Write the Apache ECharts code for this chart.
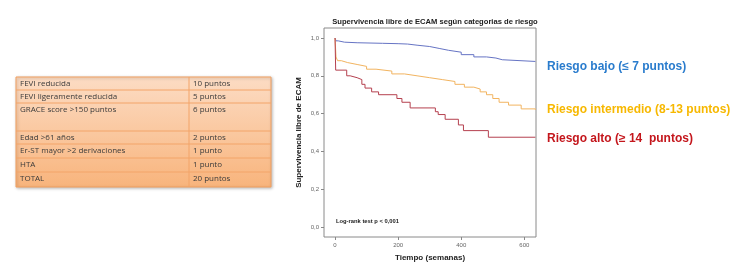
<!DOCTYPE html>
<html>
<head>
<meta charset="utf-8">
<script src="https://cdn.jsdelivr.net/npm/echarts@6/dist/echarts.min.js"></script>
<style>
  html, body { margin: 0; padding: 0; background: #fff; }
  #main { width: 750px; height: 276px; }
</style>
</head>
<body>
<div id="main"></div>
<script>
// score table
var factors = ['FEVI reducida', 'FEVI ligeramente reducida', 'GRACE score >150 puntos',
  'Edad >61 años', 'Er-ST mayor >2 derivaciones', 'HTA', 'TOTAL'];
var points = ['10 puntos', '5 puntos', '6 puntos', '2 puntos', '1 punto', '1 punto', '20 puntos'];

// Kaplan-Meier steps [semanas, supervivencia]
var riesgoBajo = [[0, 1.0], [3, 0.985], [10, 0.978], [30, 0.975], [70, 0.972], [150, 0.970],
  [200, 0.968], [230, 0.962], [260, 0.955], [300, 0.945], [330, 0.935], [360, 0.925],
  [400, 0.912], [440, 0.900], [480, 0.894], [510, 0.885], [530, 0.876], [635, 0.876]];
var riesgoIntermedio = [[0, 1.0], [3, 0.90], [8, 0.88], [20, 0.87], [40, 0.86], [70, 0.85],
  [100, 0.835], [130, 0.825], [180, 0.81], [220, 0.80], [260, 0.79], [300, 0.78], [340, 0.77],
  [380, 0.755], [410, 0.74], [440, 0.73], [460, 0.715], [480, 0.70], [500, 0.68], [520, 0.66],
  [550, 0.645], [590, 0.625], [635, 0.62]];
var riesgoAlto = [[0, 1.0], [2, 0.83], [37, 0.80], [48, 0.79], [70, 0.78], [85, 0.755],
  [95, 0.735], [116, 0.715], [138, 0.70], [196, 0.68], [212, 0.66], [238, 0.63], [318, 0.61],
  [327, 0.595], [349, 0.57], [391, 0.54], [407, 0.51], [486, 0.475], [635, 0.475]];

var xTicks = [0, 200, 400, 600];
var yTicks = [0, 0.2, 0.4, 0.6, 0.8, 1.0];

var rowTops = [77, 90, 103, 131, 144, 158, 172, 187];

function buildTable() {
  var els = [];
  els.push({
    type: 'rect',
    shape: { x: 16, y: rowTops[0], width: 255, height: rowTops[rowTops.length - 1] - rowTops[0] },
    style: {
      fill: new echarts.graphic.LinearGradient(0, 0, 0, 1, [
        { offset: 0, color: '#fcdcc4' },
        { offset: 1, color: '#f8b47c' }
      ]),
      stroke: '#f2a060',
      lineWidth: 1,
      shadowBlur: 3,
      shadowColor: 'rgba(0,0,0,0.25)',
      shadowOffsetX: 1,
      shadowOffsetY: 1
    }
  });
  for (var i = 1; i < rowTops.length - 1; i++) {
    els.push({
      type: 'line',
      shape: { x1: 16, y1: rowTops[i], x2: 271, y2: rowTops[i] },
      style: { stroke: '#f3a468', lineWidth: 1 }
    });
  }
  els.push({
    type: 'line',
    shape: { x1: 189, y1: rowTops[0], x2: 189, y2: rowTops[rowTops.length - 1] },
    style: { stroke: '#f3a468', lineWidth: 1 }
  });
  for (var j = 0; j < factors.length; j++) {
    var cy = rowTops[j] + 7;
    els.push({
      type: 'text', x: 20, y: cy,
      style: { text: factors[j], fill: '#3a3a3a', font: '8px "Open Sans", sans-serif', verticalAlign: 'middle' }
    });
    els.push({
      type: 'text', x: 193, y: cy,
      style: { text: points[j], fill: '#3a3a3a', font: '8px "Open Sans", sans-serif', verticalAlign: 'middle' }
    });
  }
  return els;
}

var dom = document.getElementById('main');
var myChart = echarts.init(dom, null, { renderer: 'canvas' });

var labelFont = 'Liberation Sans';

var option = {
  backgroundColor: '#fff',
  animation: false,
  textStyle: { fontFamily: labelFont },
  title: {
    text: 'Supervivencia libre de ECAM según categorias de riesgo',
    left: 430,
    top: 13,
    textAlign: 'center',
    textStyle: { fontSize: 7.6, fontWeight: 'bold', color: '#222' }
  },
  grid: {
    left: 324,
    right: 214,
    top: 28,
    bottom: 39,
    show: true,
    borderColor: '#8a8a8a',
    borderWidth: 1,
    backgroundColor: '#fff'
  },
  xAxis: {
    type: 'value',
    min: -35,
    max: 637,
    name: 'Tiempo (semanas)',
    nameLocation: 'middle',
    nameGap: 17,
    nameTextStyle: { fontSize: 8, fontWeight: 'bold', color: '#222' },
    axisLine: { show: false, onZero: false },
    splitLine: { show: false },
    axisTick: { show: true, inside: false, length: 3, lineStyle: { color: '#888' }, customValues: xTicks },
    axisLabel: { fontSize: 6, color: '#666', margin: 5, customValues: xTicks }
  },
  yAxis: {
    type: 'value',
    min: -0.053,
    max: 1.053,
    name: 'Supervivencia libre de ECAM',
    nameLocation: 'middle',
    nameGap: 21,
    nameRotate: 90,
    nameTextStyle: { fontSize: 8, fontWeight: 'bold', color: '#222' },
    axisLine: { show: false, onZero: false },
    splitLine: { show: false },
    axisTick: { show: true, inside: false, length: 3, lineStyle: { color: '#888' }, customValues: yTicks },
    axisLabel: {
      fontSize: 6, color: '#666', margin: 5, customValues: yTicks,
      formatter: function (v) { return v.toFixed(1).replace('.', ','); }
    }
  },
  series: [
    {
      name: 'Riesgo bajo', type: 'line', step: 'end', data: riesgoBajo,
      showSymbol: false, lineStyle: { color: '#6674c4', width: 1 }, itemStyle: { color: '#6674c4' }
    },
    {
      name: 'Riesgo intermedio', type: 'line', step: 'end', data: riesgoIntermedio,
      showSymbol: false, lineStyle: { color: '#f2b460', width: 1 }, itemStyle: { color: '#f2b460' }
    },
    {
      name: 'Riesgo alto', type: 'line', step: 'end', data: riesgoAlto,
      showSymbol: false, lineStyle: { color: '#b5404f', width: 1 }, itemStyle: { color: '#b5404f' }
    }
  ],
  graphic: buildTable().concat([
    {
      type: 'text', x: 336, y: 221,
      style: { text: 'Log-rank test p < 0,001', fill: '#222', font: 'bold 5.8px "Liberation Sans"', verticalAlign: 'middle' }
    },
    {
      type: 'text', x: 547, y: 67,
      style: { text: 'Riesgo bajo (≤ 7 puntos)', fill: '#2a7ccd', font: 'bold 12px "Liberation Sans"', verticalAlign: 'middle' }
    },
    {
      type: 'text', x: 547, y: 110,
      style: { text: 'Riesgo intermedio (8-13 puntos)', fill: '#f7b800', font: 'bold 12px "Liberation Sans"', verticalAlign: 'middle' }
    },
    {
      type: 'text', x: 547, y: 139,
      style: { text: 'Riesgo alto (≥ 14  puntos)', fill: '#c4161c', font: 'bold 12px "Liberation Sans"', verticalAlign: 'middle' }
    }
  ])
};

if (option && typeof option === "object") {
  myChart.setOption(option, true);
}
</script>
</body>
</html>
